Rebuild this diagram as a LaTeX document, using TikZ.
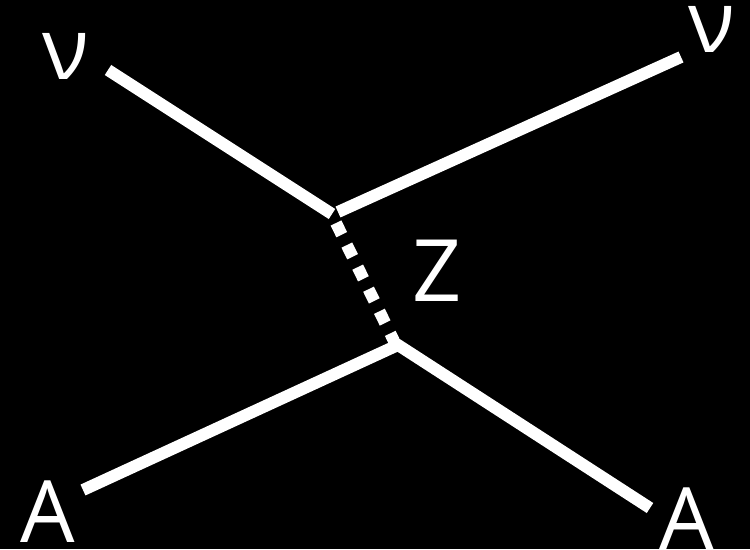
\documentclass[tikz,border=0pt]{standalone}
\usepackage{fontspec}
\setmainfont{Open Sans}
\usepackage{tikz}
\usetikzlibrary{positioning,calc}

\begin{document}
\begin{tikzpicture}[x=0.02cm,y=-0.02cm]
\fill[black] (0,0) rectangle (750,549);
\tikzset{leg/.style={white,line width=6.8pt},
  boson/.style={white,line width=6.8pt,dash pattern=on 7.4pt off 6.6pt},
  lbl/.style={text=white,font=\fontsize{49}{56}\selectfont,inner sep=0pt}}
% vertices
\coordinate (vtop) at (335,212);
\coordinate (vbot) at (398,345);
% outer ends
\coordinate (nuin) at (108,70);
\coordinate (nuout) at (681,57);
\coordinate (Ain) at (83,490);
\coordinate (Aout) at (650,508);
\draw[leg] (nuin) -- ($(vtop)+(-3,2)$);
\draw[leg] ($(vtop)+(3,0)$) -- (nuout);
\draw[boson] ($(vtop)+(1,11)$) -- ($(vbot)+(-4,-4)$);
\draw[leg] (Ain) -- (vbot) -- (Aout);
\node[lbl] (nu1) at (66,56) {ν};
\node[lbl] (nu2) at (712,29) {ν};
\node[lbl] (zlbl) at (437,271) {Z};
\node[lbl] (a1) at (48,512) {A};
\node[lbl] (a2) at (687,519) {A};
\end{tikzpicture}
\end{document}
